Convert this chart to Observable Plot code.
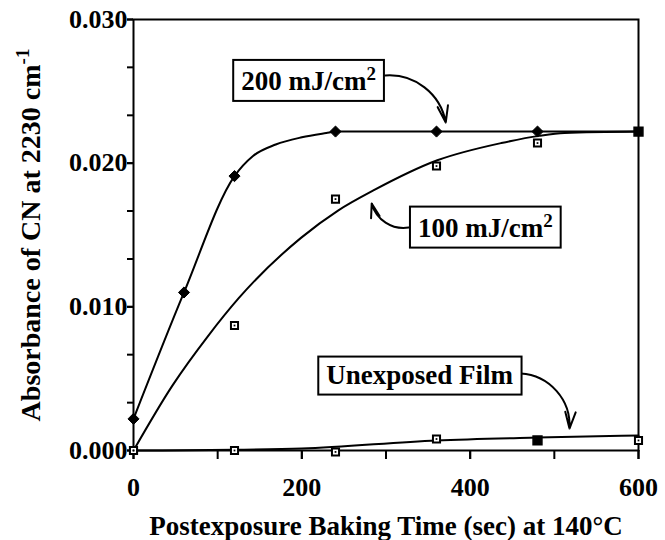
<!DOCTYPE html>
<html><head><meta charset="utf-8">
<script src="https://cdn.jsdelivr.net/npm/d3@7"></script>
<script src="https://cdn.jsdelivr.net/npm/@observablehq/plot@0.6"></script>
<style>
body{margin:0;background:#fff;}
</style></head><body><div id="chart"></div>
<script>
// ---- data ----
const time200 = [0, 60, 120, 240, 360, 480];
const abs200 = [0.0022, 0.0110, 0.0191, 0.0222, 0.0222, 0.0222];
const fitTime200 = [0, 60, 120, 142, 169, 200, 229, 240, 360, 480, 600];
const fitAbs200 = [0.0022, 0.0110, 0.0191, 0.0205, 0.0213, 0.0218, 0.0221, 0.0222, 0.0222, 0.0222, 0.0222];

const time100 = [0, 120, 240, 360, 480, 600];
const abs100 = [0.0000, 0.0087, 0.0175, 0.0198, 0.0214, 0.0222];
const filled100 = [false, false, false, false, false, true];
const fitTime100 = [0, 46, 89, 125, 199, 243, 285, 361, 437, 482, 512, 600];
const fitAbs100 = [0.0000, 0.0045, 0.0080, 0.0106, 0.0148, 0.0167, 0.0181, 0.0202, 0.0214, 0.0219, 0.0221, 0.0222];

const timeUnexp = [0, 120, 240, 360, 480, 600];
const absUnexp = [0.0000, 0.0000, -0.0001, 0.0008, 0.0007, 0.0007];
const filledUnexp = [false, false, false, false, true, false];
const fitTimeUnexp = [0, 120, 200, 360, 480, 600];
const fitAbsUnexp = [0.0000, 0.00005, 0.00014, 0.0007, 0.0009, 0.00104];

const xTicks = [0, 100, 200, 300, 400, 500, 600];
const xLabelTicks = [0, 200, 400, 600];
const yTicks = [0, 0.00333, 0.00667, 0.01, 0.01333, 0.01667, 0.02, 0.02333, 0.02667, 0.03];
const yLabelTicks = [0, 0.01, 0.02, 0.03];

const xLabel = "Postexposure Baking Time (sec) at 140°C";
const yLabelMain = "Absorbance of CN at 2230 cm";
const yLabelSup = "-1";

const labelText = ["200 mJ/cm²", "100 mJ/cm²", "Unexposed Film"];
const labelTime = [208, 418, 340];
const labelAbs = [0.0257, 0.01549, 0.00526];
const arrowFromTime = [299, 327, 460];
const arrowFromAbs = [0.0261, 0.01552, 0.00536];
const arrowToTime = [371, 283, 518];
const arrowToAbs = [0.02283, 0.01719, 0.00153];
const arrowBend = [42, 42, 45];

// ---- tables ----
const rows = (t, a, f) => t.map((v, i) => ({t: v, a: a[i], filled: f ? f[i] : false}));
const pts200 = rows(time200, abs200);
const pts100 = rows(time100, abs100, filled100);
const ptsUnexp = rows(timeUnexp, absUnexp, filledUnexp);
const fit200 = rows(fitTime200, fitAbs200);
const fit100 = rows(fitTime100, fitAbs100);
const fitUnexp = rows(fitTimeUnexp, fitAbsUnexp);
const openSq = [...pts100, ...ptsUnexp].filter(d => !d.filled);
const fullSq = [...pts100, ...ptsUnexp].filter(d => d.filled);
const labels = labelText.map((s, i) => ({s, t: labelTime[i], a: labelAbs[i]}));

const font = "'Liberation Serif','Times New Roman',serif";

const chart = Plot.plot({
  width: 665, height: 540,
  marginLeft: 133, marginRight: 27, marginTop: 19, marginBottom: 90,
  style: {fontFamily: font, fontWeight: "bold", color: "black", background: "white", overflow: "visible"},
  x: {domain: [0, 600]},
  y: {domain: [0, 0.03]},
  marks: [
    Plot.axisX(xTicks, {tickSize: 9, tickFormat: () => "", strokeWidth: 2, label: null}),
    Plot.axisX(xLabelTicks, {tickSize: 9, tickPadding: 18, fontSize: 26, fontWeight: "bold", letterSpacing: 3,
      strokeWidth: 2, label: xLabel, labelAnchor: "center", labelOffset: 84}),
    Plot.axisY(yTicks, {tickSize: 6, tickFormat: () => "", strokeWidth: 2, label: null}),
    Plot.axisY(yLabelTicks, {tickSize: 6, tickPadding: 0, tickFormat: d3.format(".3f"), fontSize: 26, fontWeight: "bold",
      strokeWidth: 2, label: yLabelMain + yLabelSup, labelAnchor: "center", labelOffset: 113}),
    Plot.frame({stroke: "black", strokeWidth: 2}),
    Plot.line(fit200, {x: "t", y: "a", curve: "monotone-x", stroke: "black", strokeWidth: 2}),
    Plot.line(fit100, {x: "t", y: "a", curve: "monotone-x", stroke: "black", strokeWidth: 2}),
    Plot.line(fitUnexp, {x: "t", y: "a", curve: "monotone-x", stroke: "black", strokeWidth: 2}),
    Plot.dot(openSq, {x: "t", y: "a", symbol: "square", fill: "white", stroke: "black", strokeWidth: 2, r: 4}),
    Plot.dot(openSq, {x: "t", y: "a", symbol: "square", fill: "black", r: 1}),
    Plot.dot(fullSq, {x: "t", y: "a", symbol: "square", fill: "black", stroke: "black", r: 5}),
    Plot.dot(pts200, {x: "t", y: "a", symbol: "diamond2", fill: "black", stroke: "black", strokeWidth: 1, r: 5}),
    ...labelText.map((_, i) => Plot.arrow([i], {
      x1: d => arrowFromTime[d], y1: d => arrowFromAbs[d],
      x2: d => arrowToTime[d], y2: d => arrowToAbs[d],
      bend: arrowBend[i], headLength: 13, headAngle: 35, stroke: "black", strokeWidth: 2
    })),
    Plot.text(labels, {x: "t", y: "a", text: "s", fontSize: 27, fontWeight: "bold", fill: "black"})
  ]
});
document.getElementById("chart").append(chart);

const NS = "http://www.w3.org/2000/svg";
const allText = Array.from(chart.querySelectorAll("text"));

// axis labels: exact text with superscript
allText.filter(el => el.textContent.startsWith("Absorbance")).forEach(el => {
  el.textContent = yLabelMain;
  el.setAttribute("font-size", "28");
  const ts = document.createElementNS(NS, "tspan");
  ts.setAttribute("dy", "-11");
  ts.setAttribute("font-size", "19");
  ts.textContent = yLabelSup;
  el.appendChild(ts);
});
allText.filter(el => el.textContent.startsWith("Postexposure")).forEach(el => {
  el.textContent = xLabel;
  el.setAttribute("font-size", "27");
});

// boxed labels
allText.filter(el => labelText.includes(el.textContent)).forEach(el => {
  const s = el.textContent;
  if (s.includes("²")) {
    const parts = s.split("²");
    el.textContent = parts[0];
    const ts = document.createElementNS(NS, "tspan");
    ts.setAttribute("dy", "-10");
    ts.setAttribute("font-size", "19");
    ts.textContent = "2";
    el.appendChild(ts);
  }
  const b = el.getBBox();
  const r = document.createElementNS(NS, "rect");
  const padX = 8, padY = 5;
  r.setAttribute("x", b.x - padX);
  r.setAttribute("y", b.y - padY + 2);
  r.setAttribute("width", b.width + 2 * padX);
  r.setAttribute("height", b.height + 2 * padY - 2);
  r.setAttribute("fill", "white");
  r.setAttribute("stroke", "black");
  r.setAttribute("stroke-width", 2);
  if (el.getAttribute("transform")) r.setAttribute("transform", el.getAttribute("transform"));
  el.parentNode.insertBefore(r, el);
});
</script>
</body></html>
